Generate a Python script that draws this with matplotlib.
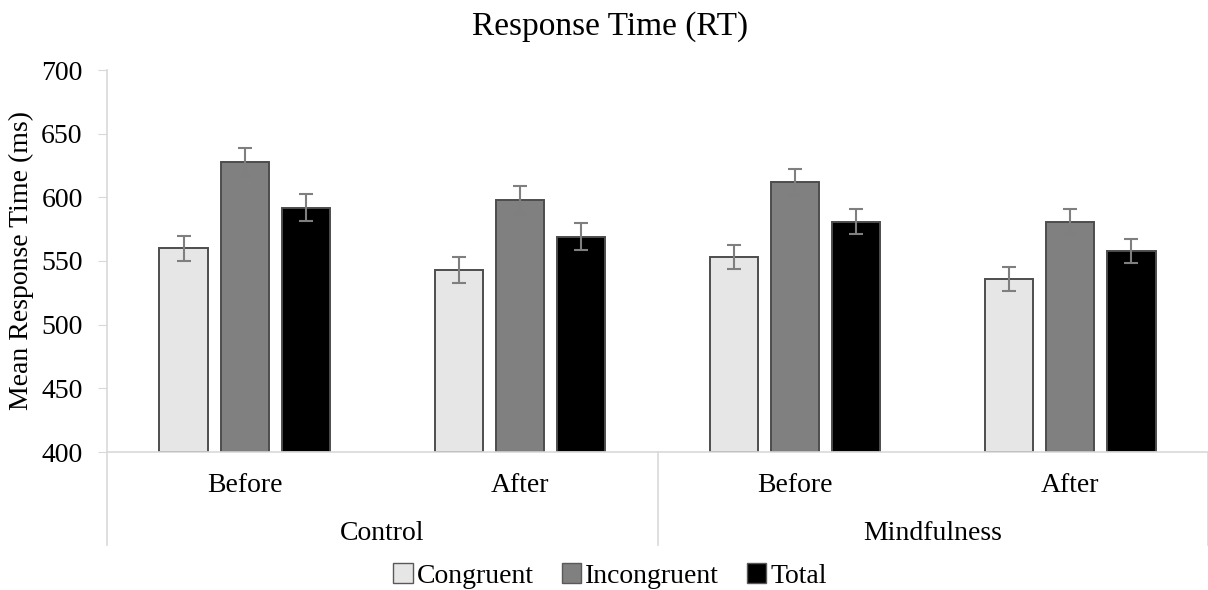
import matplotlib
matplotlib.use("Agg")
import matplotlib.pyplot as plt
import numpy as np
from matplotlib.patches import Patch
import matplotlib.transforms as mtransforms

conditions = ["Before", "After", "Before", "After"]
groups = ["Control", "Mindfulness"]
series = ["Congruent", "Incongruent", "Total"]
congruent = [560, 543, 553, 536]
incongruent = [628, 598, 612, 581]
total = [592, 569, 581, 558]
congruent_err = [10, 10.5, 9.5, 9.5]
incongruent_err = [11, 11, 10, 9.5]
total_err = [10.5, 10.5, 9.5, 9.5]
yticks = [400, 450, 500, 550, 600, 650, 700]

plt.rcParams['font.family'] = ['Liberation Serif', 'DejaVu Serif']

W, H = 1208, 590
fig = plt.figure(figsize=(W / 100, H / 100), dpi=100)
ax = fig.add_axes([107 / W, (H - 452) / H, (W - 107) / W, 382 / H])

colors = ["#e6e6e6", "#808080", "#000000"]
vals = [congruent, incongruent, total]
errs = [congruent_err, incongruent_err, total_err]
x = np.arange(len(conditions))
bw = 0.175
pitch = 0.222
for i in range(3):
    ax.bar(x + (i - 1) * pitch, np.array(vals[i]) - 400, bottom=400, width=bw,
           color=colors[i], edgecolor="#4d4d4d", linewidth=1.4, label=series[i], zorder=2)
    ax.errorbar(x + (i - 1) * pitch, vals[i], yerr=errs[i], fmt="none",
                ecolor="#7f7f7f", elinewidth=1.5, capsize=5, capthick=1.5, zorder=3)

ax.set_ylim(400, 700)
ax.set_xlim(-0.5, 3.5)
ax.set_yticks(yticks)
ax.tick_params(axis="y", length=6.5, color="#d9d9d9", labelsize=20, pad=11)
ax.set_xticks(x)
ax.set_xticklabels(conditions, fontsize=20)
ax.tick_params(axis="x", length=0, pad=15)
for s in ["top", "right"]:
    ax.spines[s].set_visible(False)
ax.spines["left"].set_color("#d9d9d9")
ax.spines["bottom"].set_color("#d9d9d9")
ax.spines["left"].set_linewidth(1.2)
ax.spines["bottom"].set_linewidth(1.2)

trans = mtransforms.blended_transform_factory(ax.transData, ax.transAxes)
for xs in [-0.5, 1.5, 3.5]:
    ax.plot([xs, xs], [0, -93 / 382], transform=trans, color="#d9d9d9",
            linewidth=1.2, clip_on=False)
for gi, g in enumerate(groups):
    ax.text(gi * 2 + 0.5, -81 / 382, g, transform=trans, ha="center", va="center", fontsize=20)

ax.set_ylabel("Mean Response Time (ms)", fontsize=20, labelpad=5)
fig.text(0.505, (H - 27) / H, "Response Time (RT)", ha="center", va="center", fontsize=24)

handles = [Patch(facecolor=colors[i], edgecolor="#595959", linewidth=1.0, label=series[i]) for i in range(3)]
fig.legend(handles=handles, loc="center", bbox_to_anchor=(0.505, (H - 576) / H), ncol=3,
           frameon=False, fontsize=20, handlelength=0.7, handleheight=0.7,
           handletextpad=0.15, columnspacing=1.0, borderaxespad=0)

fig.savefig("out.png", dpi=100)
